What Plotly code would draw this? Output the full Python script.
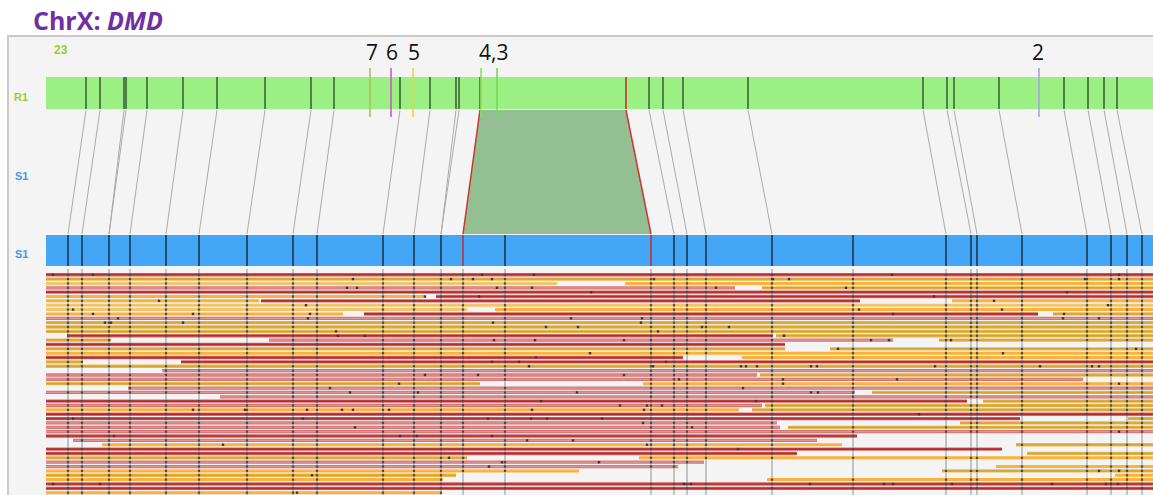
import plotly.graph_objects as go

# ---------------- data ----------------
# reference map (R1) label positions (x units along the map)
R1_LABELS = [86, 100, 124, 126, 147, 183, 217, 265, 311, 334, 400, 430, 456, 459,
             649, 663, 683, 748, 923, 947, 954, 999, 1064, 1088, 1104, 1117]
R1_SV = [480, 626]          # insertion boundaries on R1
# sample consensus map (S1) label positions
S1_LABELS = [68, 82, 109, 130, 166, 199, 247, 293, 317, 383, 414, 441, 505,
             674, 687, 706, 772, 853, 946, 971, 977, 1022, 1087, 1111, 1127, 1142]
S1_SV = [463, 651]          # insertion boundaries on S1
# aligned label pairs R1 -> S1
ALIGN_R1 = [86, 100, 124, 126, 147, 183, 217, 265, 311, 334, 400, 430, 456, 459,
            649, 663, 683, 748, 923, 947, 954, 999, 1064, 1088, 1104, 1117]
ALIGN_S1 = [68, 82, 109, 109, 130, 166, 199, 247, 293, 317, 383, 414, 441, 441,
            674, 687, 706, 772, 946, 971, 977, 1022, 1087, 1111, 1127, 1142]
# numbered exon / marker annotations on R1
MARK_POS = [370, 391, 413, 481, 497, 1039]
MARK_COLOR = ["#a9c25e", "#c45cc4", "#e6d24c", "#7ee85a", "#7ad858", "#a9a3e3"]
LABEL_TEXT = ["7", "6", "5", "4,3", "2"]
LABEL_POS = [372, 392, 414, 493, 1038]

MAP_START, MAP_END = 46, 1153

# molecules: (row, type, start, end)   R=red P=pink O=orange G=gold L=light gold
MOLECULES = [
    (0, "R", 46, 1153),
    (1, "G", 46, 1153),
    (2, "L", 46, 557), (2, "O", 625, 1153),
    (3, "P", 46, 735), (3, "G", 762, 1153),
    (4, "R", 46, 1153),
    (5, "O", 46, 425), (5, "R", 436, 1153),
    (6, "O", 46, 259), (6, "R", 261, 860), (6, "O", 952, 1153),
    (7, "L", 46, 1153),
    (8, "L", 46, 467), (8, "O", 495, 1153),
    (9, "O", 46, 343), (9, "R", 364, 1038), (9, "G", 1053, 1153),
    (10, "P", 46, 1153),
    (11, "G", 46, 1153),
    (12, "G", 46, 1153),
    (13, "G", 46, 1153),
    (14, "R", 67, 772), (14, "G", 776, 1153),
    (15, "G", 46, 111), (15, "P", 269, 893), (15, "G", 939, 1153),
    (16, "R", 46, 785),
    (17, "G", 46, 785), (17, "G", 830, 1153),
    (18, "O", 46, 1153),
    (19, "R", 46, 683), (19, "O", 742, 1153),
    (20, "G", 46, 83), (20, "R", 181, 1153),
    (21, "G", 46, 1153),
    (22, "P", 162, 1153),
    (23, "P", 46, 757), (23, "G", 760, 1153),
    (24, "P", 46, 1083),
    (25, "G", 46, 480), (25, "O", 643, 1153),
    (26, "P", 128, 1153),
    (27, "P", 46, 855), (27, "G", 872, 1153),
    (28, "P", 220, 1153),
    (29, "R", 46, 967), (29, "G", 983, 1153),
    (30, "P", 46, 762), (30, "G", 765, 1153),
    (31, "O", 46, 739), (31, "G", 752, 1153),
    (32, "R", 46, 1153),
    (33, "R", 46, 1020), (33, "G", 1128, 1153),
    (34, "P", 46, 777), (34, "G", 960, 1153),
    (35, "P", 46, 780), (35, "G", 788, 1153),
    (36, "P", 46, 1153),
    (37, "R", 46, 857),
    (38, "P", 73, 817),
    (39, "O", 102, 842), (39, "G", 1016, 1153),
    (40, "R", 46, 1002),
    (41, "R", 46, 797), (41, "G", 1027, 1153),
    (42, "G", 46, 467), (42, "O", 639, 1153),
    (43, "P", 46, 704),
    (44, "P", 46, 678), (44, "O", 996, 1153),
    (45, "O", 46, 579), (45, "G", 942, 1153),
    (46, "G", 46, 456), (46, "O", 1115, 1153),
    (47, "O", 46, 443), (47, "O", 767, 1153),
    (48, "R", 46, 1153),
    (49, "R", 46, 1153),
    (50, "O", 46, 441),
]
# unaligned labels on molecules: (row, x)
EXTRA_LABELS = [
    (0, 53), (0, 93), (1, 353), (3, 347), (3, 357), (6, 159), (7, 306), (8, 73),
    (9, 93), (9, 193), (9, 310), (10, 118), (10, 308), (11, 105), (11, 111), (11, 183),
    (13, 336), (14, 338), (14, 365), (22, 85), (22, 115), (25, 399), (26, 330), (27, 350),
    (31, 193), (31, 245), (31, 307), (31, 342), (31, 353), (31, 389), (33, 73), (33, 303),
    (35, 355), (37, 114), (37, 400), (39, 223), (46, 312), (48, 53), (48, 100), (50, 297),
    (0, 482), (0, 534), (1, 451), (1, 473), (1, 492), (1, 654), (1, 773), (3, 497),
    (3, 532), (3, 716), (4, 591), (5, 425), (5, 479), (10, 571), (10, 642), (11, 493),
    (11, 641), (12, 546), (12, 578), (12, 702), (12, 729), (13, 658), (14, 784), (15, 494),
    (15, 535), (15, 624), (18, 590), (19, 536), (20, 492), (20, 519), (20, 666), (21, 529),
    (21, 653), (21, 741), (21, 746), (21, 757), (23, 425), (23, 478), (23, 624), (24, 679),
    (25, 783), (26, 743), (27, 418), (27, 577), (29, 541), (29, 756), (30, 620), (30, 647),
    (30, 662), (31, 532), (31, 644), (33, 488), (33, 531), (33, 547), (33, 602), (34, 643),
    (35, 692), (37, 417), (37, 492), (38, 527), (38, 573), (39, 647), (40, 738), (42, 449),
    (43, 502), (43, 599), (44, 489), (48, 684), (48, 691),
    (0, 892), (0, 1119), (1, 789), (1, 1085), (1, 1119), (3, 846), (4, 1067), (5, 934),
    (6, 994), (7, 1108), (8, 859), (8, 1002), (9, 893), (9, 1052), (9, 1064), (10, 1063),
    (10, 1099), (14, 784), (15, 871), (15, 889), (15, 951), (17, 838), (17, 1136), (18, 1003),
    (21, 811), (21, 817), (21, 935), (21, 1040), (21, 1092), (21, 1099), (24, 783), (24, 897),
    (25, 1119), (27, 811), (27, 818), (32, 919), (33, 1043), (33, 1052), (34, 804), (36, 1119),
    (44, 984), (45, 1099), (45, 1119), (48, 810), (48, 884), (48, 893), (48, 952), (48, 1052),
    (48, 1106), (48, 1111), (48, 1118),
]

# ---------------- style / layout constants ----------------
W, H = 1153, 495
R1_Y = (77, 109)
S1_Y = (235, 266)
ROW_Y0, ROW_STEP = 274.7, 4.36
READ_TOP, READ_BOTTOM = 269, 495
STYLE = {
    "R": [("#d06a6a", 3.4), ("#b92a2a", 1.7)],
    "P": [("#d27474", 3.3), ("#dd9595", 1.2)],
    "O": [("#fbb13a", 3.0)],
    "G": [("#e6b955", 3.3), ("#d6a232", 1.5)],
    "L": [("#f2c470", 3.0)],
}

def row_y(r):
    return ROW_Y0 + r * ROW_STEP

def segs(pairs):
    xs, ys = [], []
    for (x0, y0), (x1, y1) in pairs:
        xs += [x0, x1, None]
        ys += [y0, y1, None]
    return xs, ys

fig = go.Figure()
shapes = []
# panel background
shapes.append(dict(type="rect", xref="x", yref="y", x0=8, x1=W + 5, y0=36, y1=H + 5,
                   fillcolor="#f4f4f4", line=dict(color="#c9c9c9", width=2), layer="below"))
# bars
shapes.append(dict(type="rect", xref="x", yref="y", x0=MAP_START, x1=MAP_END + 5,
                   y0=R1_Y[0], y1=R1_Y[1], fillcolor="#9bef83", line=dict(width=0), layer="below"))
shapes.append(dict(type="rect", xref="x", yref="y", x0=MAP_START, x1=MAP_END + 5,
                   y0=S1_Y[0], y1=S1_Y[1], fillcolor="#44a6f6", line=dict(width=0), layer="below"))

# vertical guide lines through molecules at S1 labels
all_s1 = sorted(S1_LABELS + S1_SV)
xs, ys = segs([((x, READ_TOP), (x, READ_BOTTOM)) for x in all_s1])
fig.add_trace(go.Scatter(x=xs, y=ys, mode="lines", line=dict(color="rgba(160,160,160,0.6)", width=2),
                         hoverinfo="skip", showlegend=False))

# molecules
for key, layers in STYLE.items():
    pairs = [((s, row_y(r)), (e, row_y(r))) for (r, t, s, e) in MOLECULES if t == key]
    xs, ys = segs(pairs)
    for col, wd in layers:
        fig.add_trace(go.Scatter(x=xs, y=ys, mode="lines", line=dict(color=col, width=wd),
                                 hoverinfo="skip", showlegend=False))

def covered(r, x):
    return any(rr == r and s <= x <= e for (rr, t, s, e) in MOLECULES)

# aligned label marks on molecules
mx, my = [], []
for r in range(max(m[0] for m in MOLECULES) + 1):
    for x in all_s1:
        if covered(r, x):
            mx.append(x)
            my.append(row_y(r))
fig.add_trace(go.Scatter(x=mx, y=my, mode="markers",
                         marker=dict(symbol="square", size=2.2, color="#4a4a4a", line=dict(width=0)),
                         hoverinfo="skip", showlegend=False))
# unaligned labels
ex = [(x, row_y(r)) for (r, x) in EXTRA_LABELS if covered(r, x)]
fig.add_trace(go.Scatter(x=[p[0] for p in ex], y=[p[1] for p in ex], mode="markers",
                         marker=dict(symbol="square", size=2.4, color="#3a3a3a", line=dict(width=0)),
                         hoverinfo="skip", showlegend=False))

# alignment lines between R1 and S1
xs, ys = segs([((a, R1_Y[1] + 1), (b, S1_Y[0] - 1)) for a, b in zip(ALIGN_R1, ALIGN_S1)])
fig.add_trace(go.Scatter(x=xs, y=ys, mode="lines", line=dict(color="#ababab", width=1),
                         hoverinfo="skip", showlegend=False))
# insertion trapezoid
fig.add_trace(go.Scatter(x=[R1_SV[0], R1_SV[1], S1_SV[1], S1_SV[0], R1_SV[0]],
                         y=[R1_Y[1] + 1, R1_Y[1] + 1, S1_Y[0] - 1, S1_Y[0] - 1, R1_Y[1] + 1],
                         mode="lines", fill="toself", fillcolor="#93bf93", line=dict(width=0),
                         hoverinfo="skip", showlegend=False))
xs, ys = segs([((R1_SV[0], R1_Y[1] + 1), (S1_SV[0], S1_Y[0] - 1)),
               ((R1_SV[1], R1_Y[1] + 1), (S1_SV[1], S1_Y[0] - 1))])
fig.add_trace(go.Scatter(x=xs, y=ys, mode="lines", line=dict(color="#cf3434", width=1.5),
                         hoverinfo="skip", showlegend=False))

# label ticks on bars
xs, ys = segs([((x, R1_Y[0]), (x, R1_Y[1])) for x in R1_LABELS])
fig.add_trace(go.Scatter(x=xs, y=ys, mode="lines", line=dict(color="#355f30", width=1.5),
                         hoverinfo="skip", showlegend=False))
xs, ys = segs([((x, S1_Y[0]), (x, S1_Y[1])) for x in S1_LABELS])
fig.add_trace(go.Scatter(x=xs, y=ys, mode="lines", line=dict(color="#1b2f42", width=1.5),
                         hoverinfo="skip", showlegend=False))
xs, ys = segs([((x, R1_Y[0]), (x, R1_Y[1])) for x in R1_SV] +
              [((x, S1_Y[0]), (x, S1_Y[1])) for x in S1_SV])
fig.add_trace(go.Scatter(x=xs, y=ys, mode="lines", line=dict(color="#c62f2f", width=1.6),
                         hoverinfo="skip", showlegend=False))

# numbered markers
for x, c in zip(MARK_POS, MARK_COLOR):
    fig.add_trace(go.Scatter(x=[x, x], y=[68, 117], mode="lines", line=dict(color=c, width=1.6),
                             hoverinfo="skip", showlegend=False))

ann = []
ann.append(dict(x=31, y=20, xref="x", yref="y", xanchor="left", yanchor="middle", showarrow=False,
                text="<b>ChrX: <i>DMD</i></b>",
                font=dict(family="Open Sans", size=25, color="#7030a0")))
for t, x in zip(LABEL_TEXT, LABEL_POS):
    ann.append(dict(x=x, y=52, xref="x", yref="y", xanchor="center", yanchor="middle", showarrow=False,
                    text=t, font=dict(family="Open Sans", size=21, color="#111111")))
ann.append(dict(x=61, y=50, xref="x", yref="y", showarrow=False, text="<b>23</b>",
                font=dict(family="Liberation Sans", size=12, color="#9acd32")))
ann.append(dict(x=21, y=97, xref="x", yref="y", showarrow=False, text="<b>R1</b>",
                font=dict(family="Liberation Sans", size=11, color="#9acd32")))
for yy in (176, 254):
    ann.append(dict(x=21, y=yy, xref="x", yref="y", showarrow=False, text="<b>S1</b>",
                    font=dict(family="Liberation Sans", size=11, color="#3d9bf0")))

fig.update_layout(
    width=W, height=H, margin=dict(l=0, r=0, t=0, b=0),
    paper_bgcolor="white", plot_bgcolor="white",
    xaxis=dict(range=[0, W], visible=False, fixedrange=True),
    yaxis=dict(range=[H, 0], visible=False, fixedrange=True),
    shapes=shapes, annotations=ann, showlegend=False,
)
fig.write_html("out.html", config={"displayModeBar": False},
               post_script="document.body.style.margin='0';document.body.style.overflow='hidden';")
